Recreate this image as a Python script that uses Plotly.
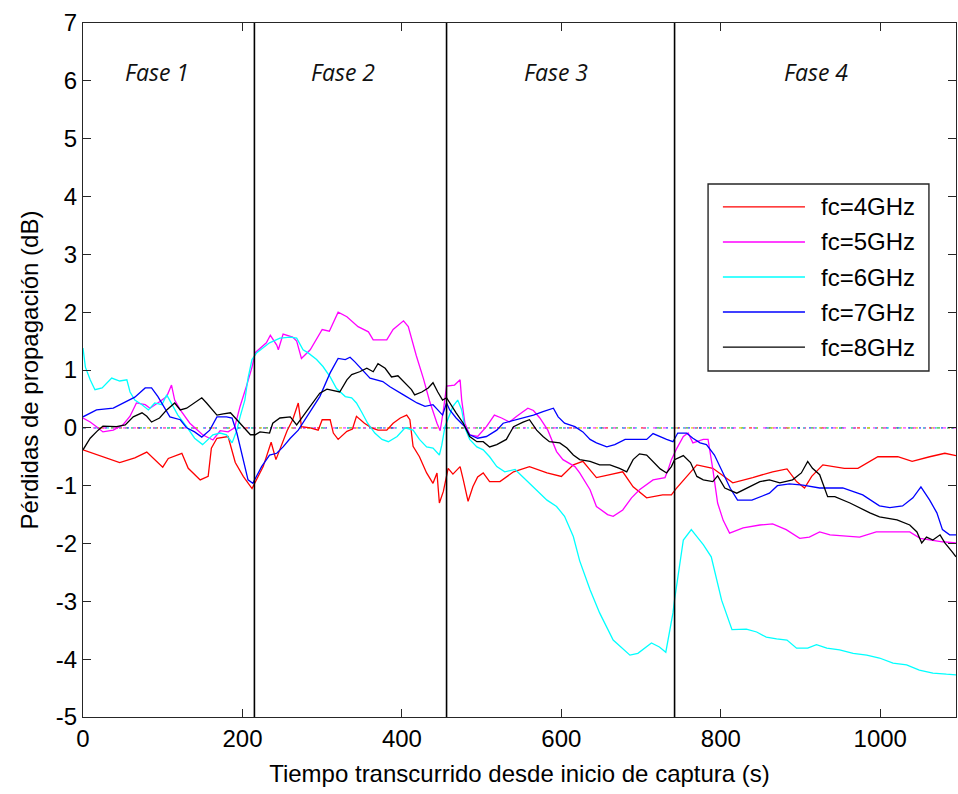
import plotly.graph_objects as go

# Propagation loss vs. elapsed capture time, one trace per carrier frequency
series_names = ["fc=4GHz", "fc=5GHz", "fc=6GHz", "fc=7GHz", "fc=8GHz"]
series_colors = ["#ff0000", "#ff00ff", "#00ffff", "#0000ff", "#000000"]

t_fc4 = [0, 20, 34, 46, 65, 80, 100, 107, 124, 132, 147, 157, 161, 168, 182, 191, 201, 212, 226, 236,
         242, 248, 256, 263, 270, 274, 285, 295, 300, 310, 314, 320, 331, 338, 343, 353, 362, 370, 381, 389,
         398, 406, 410, 414, 422, 431, 439, 444, 447, 452, 455, 458, 464, 473, 477, 483, 489, 495, 502, 510,
         523, 540, 560, 582, 600, 615, 627, 644, 661, 677, 690, 707, 727, 738, 744, 757, 770, 790, 801, 815,
         840, 865, 883, 895, 905, 914, 928, 955, 972, 997, 1022, 1040, 1062, 1081, 1095]
loss_fc4 = [-0.38, -0.48, -0.55, -0.6, -0.52, -0.42, -0.68, -0.53, -0.44, -0.7,
            -0.9, -0.84, -0.35, -0.18, -0.15, -0.6, -0.84, -1.05, -0.67, -0.25,
            -0.55, -0.35, -0.05, 0.14, 0.43, 0.02, 0.0, -0.04, 0.14, 0.14,
            -0.09, -0.2, -0.06, -0.02, 0.2, 0.08, 0.0, -0.04, -0.04, 0.08,
            0.17, 0.22, 0.14, -0.32, -0.5, -0.78, -0.96, -0.78, -1.3, -1.1,
            -0.9, -0.7, -0.8, -0.67, -0.9, -1.27, -1.02, -0.85, -0.78, -0.93,
            -0.93, -0.76, -0.67, -0.78, -0.84, -0.64, -0.58, -0.86, -0.81, -0.76,
            -1.02, -1.21, -1.16, -1.16, -1.05, -0.84, -0.64, -0.7, -0.81, -0.95,
            -0.86, -0.76, -0.71, -0.93, -1.04, -0.84, -0.64, -0.7, -0.7, -0.5,
            -0.5, -0.58, -0.5, -0.44, -0.48]

t_fc5 = [0, 9, 17, 25, 38, 50, 59, 67, 78, 84, 96, 105, 111, 115, 122, 134, 150, 163, 172, 182,
         190, 197, 205, 212, 216, 230, 235, 243, 245, 251, 263, 268, 274, 285, 300, 309, 320, 331, 345, 358,
         364, 381, 389, 402, 408, 418, 427, 435, 444, 448, 452, 456, 466, 473, 475, 479, 485, 495, 506, 516,
         525, 535, 544, 550, 558, 565, 573, 583, 594, 602, 617, 623, 636, 644, 658, 665, 677, 688, 698, 715,
         730, 734, 738, 745, 753, 759, 765, 778, 784, 790, 796, 803, 811, 828, 849, 865, 882, 899, 911, 924,
         937, 974, 995, 1037, 1050, 1078, 1095]
loss_fc5 = [0.17, 0.1, 0.02, -0.07, -0.04, 0.05, 0.2, 0.43, 0.4, 0.34,
            0.45, 0.54, 0.74, 0.48, 0.31, 0.08, -0.12, -0.21, -0.05, -0.07,
            0.0, 0.37, 0.72, 1.05, 1.3, 1.47, 1.6, 1.43, 1.35, 1.62,
            1.57, 1.5, 1.2, 1.35, 1.7, 1.67, 2.0, 1.92, 1.75, 1.66,
            1.52, 1.52, 1.7, 1.85, 1.75, 1.25, 0.85, 0.45, 0.08, -0.05,
            0.3, 0.72, 0.74, 0.83, 0.48, 0.08, -0.12, -0.15, 0.02, 0.22,
            0.17, 0.1, 0.2, 0.26, 0.34, 0.3, 0.17, -0.04, -0.41, -0.55,
            -0.67, -0.78, -1.07, -1.36, -1.5, -1.53, -1.42, -1.21, -1.07, -0.9,
            -0.86, -0.72, -0.55, -0.35, -0.15, -0.09, -0.26, -0.2, -0.2, -0.72,
            -1.3, -1.6, -1.82, -1.73, -1.68, -1.66, -1.76, -1.91, -1.89, -1.8,
            -1.85, -1.89, -1.8, -1.8, -1.91, -1.97, -1.99]

t_fc6 = [0, 3, 9, 15, 24, 36, 46, 55, 59, 65, 74, 82, 90, 99, 105, 112, 119, 130, 140, 150,
         157, 163, 172, 180, 187, 193, 197, 203, 207, 212, 218, 234, 247, 260, 268, 276, 282, 293, 301, 310,
         318, 329, 337, 343, 350, 357, 366, 375, 383, 394, 404, 414, 422, 431, 439, 447, 450, 454, 464, 470,
         475, 479, 485, 494, 502, 510, 519, 529, 542, 556, 569, 582, 594, 604, 615, 623, 636, 648, 665, 676,
         686, 696, 713, 723, 731, 740, 742, 753, 763, 770, 778, 788, 801, 814, 832, 845, 857, 870, 883, 895,
         909, 920, 933, 949, 966, 983, 999, 1016, 1033, 1049, 1066, 1083, 1095]
loss_fc6 = [1.38, 1.05, 0.83, 0.66, 0.69, 0.86, 0.81, 0.83, 0.62, 0.48,
            0.4, 0.31, 0.43, 0.4, 0.57, 0.4, 0.22, 0.02, -0.18, -0.29,
            -0.2, -0.12, -0.09, -0.12, -0.26, -0.04, 0.19, 0.48, 0.86, 1.18,
            1.3, 1.47, 1.55, 1.57, 1.55, 1.35, 1.3, 1.18, 1.06, 0.88,
            0.68, 0.54, 0.52, 0.43, 0.26, 0.08, -0.09, -0.2, -0.24, -0.15,
            0.0, -0.04, -0.2, -0.33, -0.35, -0.47, -0.3, 0.02, 0.37, 0.48,
            0.31, 0.0, -0.2, -0.33, -0.38, -0.5, -0.67, -0.76, -0.72, -0.9,
            -1.07, -1.25, -1.36, -1.53, -1.88, -2.3, -2.8, -3.2, -3.67, -3.81,
            -3.93, -3.9, -3.72, -3.79, -3.88, -3.2, -2.97, -1.94, -1.76, -1.88,
            -2.02, -2.23, -2.98, -3.49, -3.48, -3.53, -3.62, -3.65, -3.67, -3.81,
            -3.81, -3.75, -3.81, -3.84, -3.9, -3.93, -3.98, -4.07, -4.1, -4.19,
            -4.24, -4.26, -4.27]

t_fc7 = [0, 17, 38, 50, 65, 78, 86, 94, 103, 109, 122, 130, 140, 149, 159, 168, 180, 187, 193, 201,
         207, 213, 224, 234, 243, 251, 260, 270, 281, 297, 310, 320, 329, 335, 341, 350, 360, 376, 385, 402,
         419, 429, 439, 445, 451, 456, 460, 468, 479, 485, 495, 506, 519, 527, 544, 565, 577, 590, 596, 604,
         617, 627, 636, 644, 657, 667, 680, 707, 715, 724, 732, 740, 746, 757, 765, 774, 782, 792, 803, 812,
         821, 839, 861, 871, 886, 903, 924, 953, 978, 999, 1012, 1028, 1041, 1051, 1062, 1071, 1078, 1087, 1095]
loss_fc7 = [0.19, 0.31, 0.34, 0.43, 0.53, 0.69, 0.69, 0.54, 0.34, 0.19,
            0.14, 0.0, -0.07, -0.16, -0.04, 0.19, 0.19, 0.17, -0.09, -0.55,
            -0.9, -0.96, -0.67, -0.47, -0.44, -0.33, -0.18, -0.04, 0.19, 0.54,
            0.95, 1.2, 1.18, 1.22, 1.14, 1.0, 0.86, 0.8, 0.71, 0.57,
            0.43, 0.37, 0.4, 0.31, 0.22, 0.43, 0.31, 0.17, 0.02, -0.12,
            -0.18, -0.15, -0.04, 0.08, 0.14, 0.22, 0.28, 0.34, 0.19, 0.08,
            0.02, -0.07, -0.2, -0.26, -0.33, -0.29, -0.2, -0.2, -0.1, -0.16,
            -0.2, -0.24, -0.09, -0.09, -0.18, -0.26, -0.29, -0.47, -0.78, -1.05,
            -1.25, -1.25, -1.13, -1.0, -0.97, -0.99, -1.04, -1.04, -1.16, -1.35,
            -1.38, -1.35, -1.21, -1.02, -1.25, -1.47, -1.76, -1.85, -1.85]

t_fc8 = [0, 9, 19, 25, 42, 53, 63, 74, 80, 86, 96, 105, 115, 122, 130, 140, 149, 155, 161, 168,
         176, 185, 193, 201, 210, 216, 222, 234, 238, 247, 260, 268, 285, 297, 306, 322, 331, 337, 347, 356,
         364, 370, 379, 387, 395, 404, 412, 416, 425, 433, 439, 445, 451, 456, 460, 468, 477, 485, 494, 502,
         510, 519, 531, 540, 552, 560, 569, 577, 585, 598, 607, 615, 623, 636, 648, 661, 673, 682, 690, 698,
         707, 715, 724, 732, 738, 742, 753, 762, 770, 778, 790, 796, 805, 820, 836, 849, 861, 874, 890, 901,
         909, 915, 924, 930, 934, 943, 962, 987, 999, 1021, 1037, 1046, 1052, 1058, 1066, 1075, 1081, 1090, 1095]
loss_fc8 = [-0.38, -0.18, -0.04, 0.03, 0.02, 0.05, 0.19, 0.26, 0.2, 0.1,
            0.17, 0.31, 0.43, 0.31, 0.34, 0.43, 0.52, 0.43, 0.33, 0.22,
            0.24, 0.26, 0.14, 0.02, -0.12, -0.12, -0.07, -0.09, 0.08, 0.17,
            0.19, 0.05, 0.37, 0.6, 0.67, 0.62, 0.83, 0.92, 0.97, 1.03,
            0.97, 1.11, 1.03, 0.88, 0.9, 0.78, 0.66, 0.57, 0.62, 0.69,
            0.78, 0.62, 0.48, 0.52, 0.43, 0.26, 0.08, -0.15, -0.24, -0.24,
            -0.33, -0.29, -0.2, 0.02, 0.1, 0.14, -0.04, -0.15, -0.24, -0.26,
            -0.35, -0.47, -0.55, -0.58, -0.64, -0.64, -0.7, -0.76, -0.55, -0.45,
            -0.47, -0.58, -0.71, -0.78, -0.67, -0.55, -0.48, -0.6, -0.84, -0.9,
            -0.93, -0.83, -1.04, -1.13, -1.02, -0.93, -0.9, -0.95, -0.9, -0.78,
            -0.58, -0.7, -0.81, -1.02, -1.19, -1.19, -1.3, -1.47, -1.54, -1.59,
            -1.68, -1.8, -1.99, -1.89, -1.94, -1.85, -1.99, -2.14, -2.23]

times = [t_fc4, t_fc5, t_fc6, t_fc7, t_fc8]
losses = [loss_fc4, loss_fc5, loss_fc6, loss_fc7, loss_fc8]

# Phase boundaries (s) and phase captions
phase_bounds = [215, 456, 742]
phase_labels = ["Fase 1", "Fase 2", "Fase 3", "Fase 4"]
phase_label_x = [93, 326, 593, 919]
phase_label_y = 6.15

x_range = [0, 1095]
y_range = [-5, 7]
x_ticks = [0, 200, 400, 600, 800, 1000]
y_ticks = list(range(-5, 8))
y_ticktext = [str(v) for v in y_ticks]   # plain hyphen for negatives

AXIS_FONT = "Liberation Sans, Arial, sans-serif"
FRAME = "#262626"

fig = go.Figure()

# zero reference: short coloured dashes of several lines overlapping
zero_colors = ["#ff3030", "#40c040", "#3050ff", "#e0d020", "#ff40ff", "#30e0e0"]
zero_dashes = ["3px,15px", "3px,11px", "2px,9px", "3px,13px", "3px,7px", "2px,10px"]
for col, dash in zip(zero_colors, zero_dashes):
    fig.add_trace(go.Scatter(x=x_range, y=[0, 0], mode="lines", opacity=0.75,
                             line=dict(color=col, width=1.6, dash=dash),
                             hoverinfo="skip", showlegend=False))

for name, col, t, v in zip(series_names, series_colors, times, losses):
    fig.add_trace(go.Scatter(x=t, y=v, mode="lines", name=name,
                             line=dict(color=col, width=1.3), showlegend=False))

shapes = []
for xb in phase_bounds:
    shapes.append(dict(type="line", xref="x", yref="y", x0=xb, x1=xb,
                       y0=y_range[0], y1=y_range[1],
                       line=dict(color="#000000", width=1.6)))

# legend box drawn in plot-area fractions
lg_x0, lg_x1 = 0.716, 0.969
lg_top, lg_bot = 0.768, 0.4986
row0, row_step = 0.735, 0.0505
shapes.append(dict(type="rect", xref="paper", yref="paper", x0=lg_x0, x1=lg_x1,
                   y0=lg_bot, y1=lg_top, line=dict(color=FRAME, width=1.4),
                   fillcolor="white", layer="above"))
annotations = []
for i, (name, col) in enumerate(zip(series_names, series_colors)):
    yy = row0 - i * row_step
    shapes.append(dict(type="line", xref="paper", yref="paper", x0=0.733, x1=0.827,
                       y0=yy, y1=yy, line=dict(color=col, width=1.4), layer="above"))
    annotations.append(dict(xref="paper", yref="paper", x=0.955, y=yy, text=name,
                            showarrow=False, xanchor="right", yanchor="middle",
                            font=dict(family=AXIS_FONT, size=24, color="#000000")))

for lab, lx in zip(phase_labels, phase_label_x):
    annotations.append(dict(xref="x", yref="y", x=lx, y=phase_label_y,
                            text="<i>" + lab + "</i>", showarrow=False,
                            xanchor="center", yanchor="middle",
                            font=dict(family="Open Sans, sans-serif", size=23, color="#111111")))

fig.update_layout(
    width=958, height=794,
    margin=dict(l=83, r=2, t=23, b=77),
    paper_bgcolor="white", plot_bgcolor="white",
    shapes=shapes, annotations=annotations,
    font=dict(family=AXIS_FONT, size=24, color="#000000"),
)
axis_common = dict(showgrid=False, zeroline=False, showline=True, linecolor=FRAME,
                   linewidth=1.4, mirror="ticks", ticks="inside", ticklen=8,
                   tickwidth=1.3, tickcolor=FRAME,
                   tickfont=dict(family=AXIS_FONT, size=24, color="#000000"))
fig.update_xaxes(range=x_range, tickvals=x_ticks, **axis_common,
                 title=dict(text="Tiempo transcurrido desde inicio de captura (s)",
                            font=dict(family=AXIS_FONT, size=24), standoff=14))
fig.update_yaxes(range=y_range, tickvals=y_ticks, ticktext=y_ticktext, **axis_common,
                 title=dict(text="Pérdidas de propagación (dB)",
                            font=dict(family=AXIS_FONT, size=24), standoff=10))

fig.write_html("out.html")
